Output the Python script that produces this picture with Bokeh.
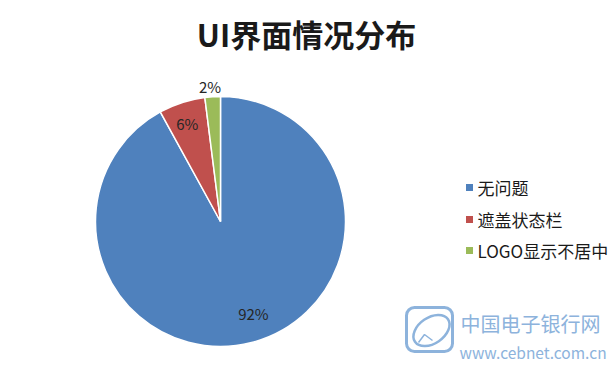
import math
from bokeh.plotting import figure
from bokeh.models import Range1d, ColumnDataSource
from bokeh.core.properties import value
from bokeh.embed import file_html
from bokeh.resources import INLINE

title = "UI界面情况分布"
categories = ["无问题", "遮盖状态栏", "LOGO显示不居中"]
shares = [92, 6, 2]
labels = ["92%", "6%", "2%"]
colors = ["#4F81BD", "#C0504D", "#9BBB59"]
watermark_cn = "中国电子银行网"
watermark_url = "www.cebnet.com.cn"

W, H = 615, 366
FONT = "Noto Sans CJK SC"

p = figure(width=W, height=H, output_backend="svg", toolbar_location=None,
           x_range=Range1d(0, W), y_range=Range1d(0, H),
           min_border=0, outline_line_color=None)
p.axis.visible = False
p.grid.visible = False
p.background_fill_color = "white"
p.border_fill_color = "white"

def Y(py):
    return H - py

cx, cy, R = 220, Y(221), 125
total = sum(shares)
starts, ends, mids = [], [], []
cum = 0
for s in shares:
    a0 = math.pi / 2 - cum / total * 2 * math.pi
    cum += s
    a1 = math.pi / 2 - cum / total * 2 * math.pi
    starts.append(a0)
    ends.append(a1)
    mids.append((a0 + a1) / 2)

src = ColumnDataSource(dict(start=starts, end=ends, color=colors))
p.wedge(x=cx, y=cy, radius=R, start_angle="start", end_angle="end",
        direction="clock", fill_color="color", line_color="white",
        line_width=1.5, source=src)

# data labels
lr = [0.8, 0.81, 1.07]
lx = [cx + R * r * math.cos(m) for r, m in zip(lr, mids)]
ly = [cy + R * r * math.sin(m) for r, m in zip(lr, mids)]
lx[0] += 8
ly[0] += 5
lx[1] -= 2
ly[1] += 2
lx[2] -= 2
ly[2] += 2
p.text(x=lx, y=ly, text=labels, text_font=value(FONT), text_font_size="15px",
       text_color="#262626", text_align="center", text_baseline="middle")

# title
p.text(x=[306], y=[Y(33)], text=[title], text_font=value(FONT),
       text_font_size="31px", text_font_style="bold", text_color="#1a1a1a",
       text_align="center", text_baseline="middle")

# legend
leg_y = [Y(187), Y(219), Y(250)]
p.scatter(x=[469] * 3, y=leg_y, marker="square", size=7, fill_color=colors,
          line_color=None)
p.text(x=[477] * 3, y=leg_y, text=categories, text_font=value(FONT),
       text_font_size="17px", text_color="#1a1a1a", text_align="left",
       text_baseline="middle")

# watermark
wm = "#8DB3DC"
p.rect(x=[429], y=[Y(329)], width=46, height=44, fill_color=None,
       line_color=wm, line_width=3, border_radius=8)
p.ellipse(x=[431], y=[Y(330)], width=40, height=26, angle=0.6,
          fill_color=None, line_color=wm, line_width=2.5)
p.line(x=[418, 424, 432], y=[Y(342), Y(334), Y(340)], line_color=wm, line_width=1.5)
p.text(x=[460], y=[Y(323)], text=[watermark_cn], text_font=value(FONT),
       text_font_size="20px", text_color=wm, text_align="left",
       text_baseline="middle")
p.text(x=[459], y=[Y(351)], text=[watermark_url], text_font=value(FONT),
       text_font_size="15.5px", text_color=wm, text_align="left",
       text_baseline="middle")

open("out.html", "w").write(file_html(p, INLINE))
